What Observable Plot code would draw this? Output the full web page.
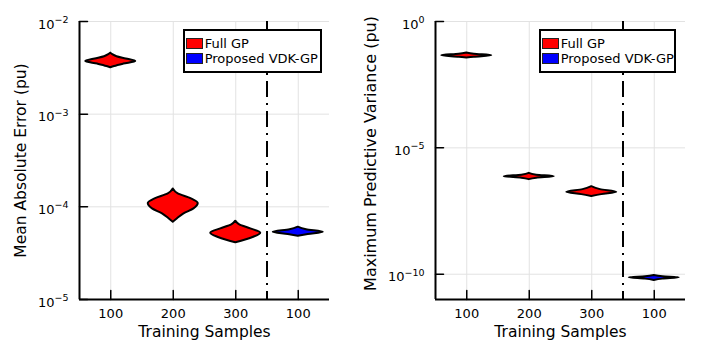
<!DOCTYPE html>
<html>
<head>
<meta charset="utf-8">
<script src="https://cdn.jsdelivr.net/npm/d3@7"></script>
<script src="https://cdn.jsdelivr.net/npm/@observablehq/plot@0.6"></script>
<style>
  body { margin: 0; background: white; font-family: "DejaVu Sans", sans-serif; }
  #wrap { display: flex; width: 706px; height: 353px; }
  .panel { position: relative; width: 353px; height: 353px; }
  .legend { position: absolute; border: 2px solid black; background: white; box-sizing: border-box; font-size: 13px; color: black; }
  .legend .sw { position: absolute; width: 17px; height: 11px; box-sizing: border-box; border: 1px solid #222; }
  .legend .lab { position: absolute; height: 15px; line-height: 15px; white-space: nowrap; }
</style>
</head>
<body>
<div id="wrap"></div>
<script>
// ---- data ----
const xLabels = ["100", "200", "300", "100"];
const methods = ["Full GP", "Full GP", "Full GP", "Proposed VDK-GP"];
const legendNames = ["Full GP", "Proposed VDK-GP"];
const legendColors = ["red", "blue"];
const xTitle = "Training Samples";

// Violin profiles: [value, relative half-width]
const maeFull100 = [[4.56e-3, 0], [4.38e-3, 0.08], [4.17e-3, 0.25], [3.94e-3, 0.62], [3.71e-3, 1], [3.47e-3, 0.52], [3.27e-3, 0.15], [3.17e-3, 0]];
const maeFull200 = [[1.56e-4, 0], [1.38e-4, 0.2], [1.22e-4, 0.73], [1.087e-4, 1], [9.5e-5, 0.83], [8.4e-5, 0.43], [7.43e-5, 0.17], [6.83e-5, 0]];
const maeFull300 = [[7.0e-5, 0], [6.4e-5, 0.16], [5.79e-5, 0.6], [5.2e-5, 1], [4.7e-5, 0.72], [4.33e-5, 0.33], [4.09e-5, 0]];
const maeVdk100 = [[6.03e-5, 0], [5.65e-5, 0.33], [5.32e-5, 1], [5.03e-5, 0.4], [4.82e-5, 0]];

const varFull100 = [[0.0564, 0], [0.0506, 0.3], [0.0441, 1], [0.0385, 0.3], [0.0357, 0]];
const varFull200 = [[9.8e-7, 0], [8.3e-7, 0.3], [7.27e-7, 1], [6.34e-7, 0.3], [5.53e-7, 0]];
const varFull300 = [[2.92e-7, 0], [2.23e-7, 0.35], [1.74e-7, 1], [1.41e-7, 0.4], [1.18e-7, 0]];
const varVdk100 = [[8.9e-11, 0], [7.96e-11, 0.35], [7.2e-11, 1], [6.4e-11, 0.35], [5.6e-11, 0]];

const maeTicks = [1e-5, 1e-4, 1e-3, 1e-2];
const varTicks = [1e-10, 1e-5, 1];
const maeDomain = [1e-5, 1e-2];
const varDomain = [1e-11, 1];
const dividerAt = 3.5;

// ---- drawing ----
const tickShape = { draw(ctx, l) { ctx.moveTo(0, 0); ctx.lineTo(0, -l); } };
const positions = xLabels.map((_, i) => i + 1);
const halfWidth = 0.4;

function panel(profiles, yDomain, yTicks, yTitle, o) {
  const rows = [];
  profiles.forEach((prof, i) => prof.forEach(([v, w]) => rows.push({pos: i + 1, method: methods[i], v, w})));
  const svg = Plot.plot({
    width: 353, height: 353,
    marginLeft: o.marginLeft, marginRight: o.marginRight, marginTop: 21, marginBottom: 54,
    style: {fontFamily: "DejaVu Sans", fontSize: "13px", color: "black", background: "white", overflow: "visible"},
    x: {type: "linear", domain: [0.5, 4.5]},
    y: {type: "log", domain: yDomain},
    color: {domain: legendNames, range: legendColors},
    marks: [
      Plot.gridX(positions, {stroke: "#e2e2e2", strokeOpacity: 1}),
      Plot.gridY(yTicks, {stroke: "#e2e2e2", strokeOpacity: 1}),
      Plot.axisX(positions, {tickSize: 0, tickPadding: 9, label: null, tickFormat: d => xLabels[d - 1], fontSize: 13}),
      Plot.axisY(yTicks, {tickSize: 0, tickPadding: 11, label: null, tickFormat: d => "10^" + Math.round(Math.log10(d)), fontSize: 13}),
      Plot.ruleX([dividerAt], {stroke: "black", strokeWidth: 2, strokeDasharray: "16,6,2,6"}),
      Plot.areaX(rows, {
        y: "v", x1: d => d.pos - d.w * halfWidth, x2: d => d.pos + d.w * halfWidth,
        z: "pos", fill: "method", stroke: "black", strokeWidth: 2, strokeLinejoin: "round", curve: "monotone-y"
      }),
      Plot.ruleX([0.5], {stroke: "black", strokeWidth: 2}),
      Plot.ruleY([yDomain[0]], {stroke: "black", strokeWidth: 2}),
      Plot.vector(yTicks, {y: d => d, frameAnchor: "left", rotate: 90, length: 8, anchor: "start", shape: tickShape, stroke: "black", strokeWidth: 1.5}),
      Plot.vector(positions, {x: d => d, frameAnchor: "bottom", rotate: 0, length: 9, anchor: "start", shape: tickShape, stroke: "black", strokeWidth: 1.5}),
      Plot.text([yTitle], {text: d => d, frameAnchor: "left", textAnchor: "middle", lineAnchor: "middle", rotate: -90, dx: o.titleDx, dy: o.titleDy, fontSize: o.titleSize, fill: "black"}),
      Plot.text([xTitle], {text: d => d, frameAnchor: "bottom", textAnchor: "middle", lineAnchor: "middle", dy: 33, fontSize: 15.5, fill: "black"})
    ]
  });
  // superscript exponents on y tick labels
  svg.querySelectorAll('[aria-label="y-axis tick label"] text').forEach(t => {
    const s = t.textContent;
    const [base, exp] = s.split("^");
    t.textContent = "";
    t.setAttribute("y", "7px");
    const b = document.createElementNS("http://www.w3.org/2000/svg", "tspan");
    b.textContent = base;
    const e = document.createElementNS("http://www.w3.org/2000/svg", "tspan");
    e.textContent = exp.replace("-", "\u2212");
    e.setAttribute("dy", "-5.6px");
    e.setAttribute("font-size", "9.5px");
    t.appendChild(b); t.appendChild(e);
  });
  const div = document.createElement("div");
  div.className = "panel";
  div.appendChild(svg);
  const lg = document.createElement("div");
  lg.className = "legend";
  lg.style.left = o.legLeft + "px"; lg.style.top = "29px";
  lg.style.width = o.legWidth + "px"; lg.style.height = "44px";
  legendNames.forEach((name, i) => {
    const sw = document.createElement("div");
    sw.className = "sw";
    sw.style.left = "1.3px"; sw.style.top = (7.3 + 15 * i) + "px";
    sw.style.background = legendColors[i];
    const lab = document.createElement("div");
    lab.className = "lab";
    lab.style.left = "19.7px"; lab.style.top = (5.3 + 15 * i) + "px";
    lab.textContent = name;
    lg.appendChild(sw); lg.appendChild(lab);
  });
  div.appendChild(lg);
  return div;
}

const wrap = document.getElementById("wrap");
wrap.appendChild(panel([maeFull100, maeFull200, maeFull300, maeVdk100], maeDomain, maeTicks,
  "Mean Absolute Error (pu)", {marginLeft: 79, marginRight: 24, titleDx: -58, titleDy: 0, titleSize: 15.5, legLeft: 183, legWidth: 139}));
wrap.appendChild(panel([varFull100, varFull200, varFull300, varVdk100], varDomain, varTicks,
  "Maximum Predictive Variance (pu)", {marginLeft: 82, marginRight: 21, titleDx: -64.5, titleDy: -7, titleSize: 16, legLeft: 186, legWidth: 137}));
</script>
</body>
</html>
